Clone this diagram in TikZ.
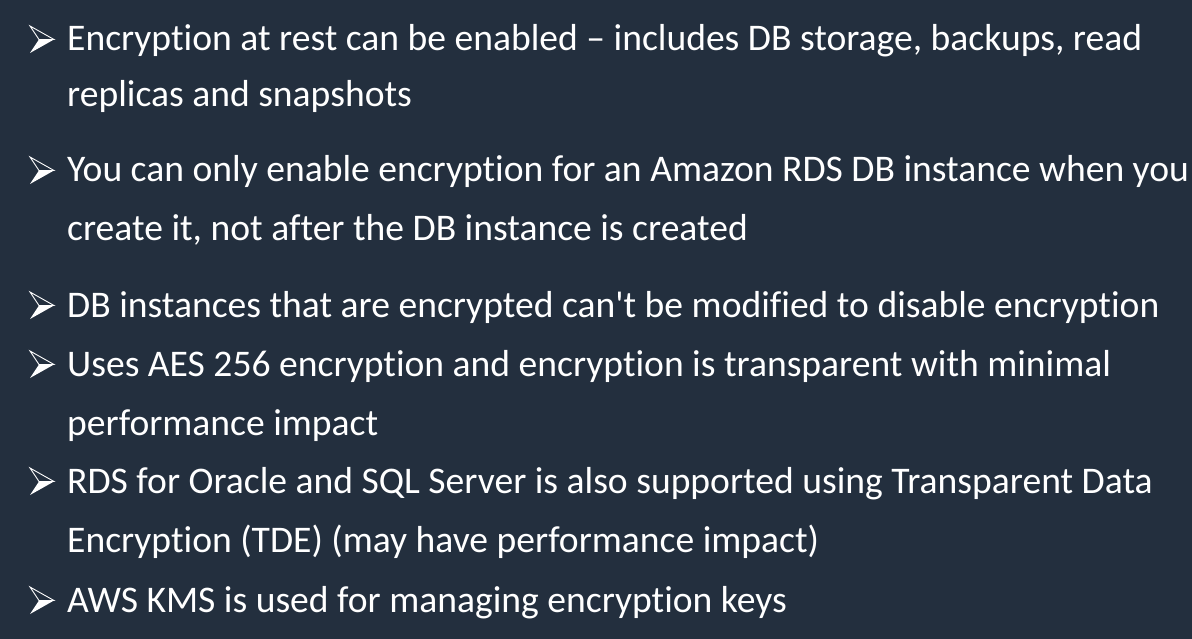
\documentclass[tikz,border=0pt]{standalone}
\usepackage{fontspec}
\setmainfont{Carlito}[Ligatures={TeXOff,CommonOff}]
\usetikzlibrary{positioning}
\definecolor{slidebg}{HTML}{232F3E}

\tikzset{
    slidebullet/.pic={
        \draw[white, line width=0.9pt, line join=miter, fill=slidebg] (0,-25) -- (24,-11.5) -- (9,-11.5) -- cycle;
        \fill[white] (9,-11.5) -- (24,-11.5) -- (0,2) -- cycle;
    }
}

\begin{document}
\begin{tikzpicture}[x=1pt, y=-1pt,
    line/.style={anchor=base west, inner sep=0pt, text=white, font=\fontsize{37.6}{45}\selectfont}]
    \fill[slidebg] (0,0) rectangle (1192,639);
    \useasboundingbox (0,0) rectangle (1192,639);
    % one arrow head per point
    \foreach \y in {51,182,317,376,493,612}
        \pic at (30,\y) {slidebullet};
    \node[line] (l1a) at (67,51) {Encryption at rest can be enabled – includes DB storage, backups, read};
    \node[line] (l1b) at (67,107) {replicas and snapshots};
    \node[line] (l2a) at (67,182) {You can only enable encryption for an Amazon RDS DB instance when you};
    \node[line] (l2b) at (67,241) {create it, not after the DB instance is created};
    \node[line] (l3a) at (67,317) {DB instances that are encrypted can't be modified to disable encryption};
    \node[line] (l4a) at (67,376) {Uses AES 256 encryption and encryption is transparent with minimal};
    \node[line] (l4b) at (67,435) {performance impact};
    \node[line] (l5a) at (67,493) {RDS for Oracle and SQL Server is also supported using Transparent Data};
    \node[line] (l5b) at (67,552) {Encryption (TDE) (may have performance impact)};
    \node[line] (l6a) at (67,612) {AWS KMS is used for managing encryption keys};
\end{tikzpicture}
\end{document}
